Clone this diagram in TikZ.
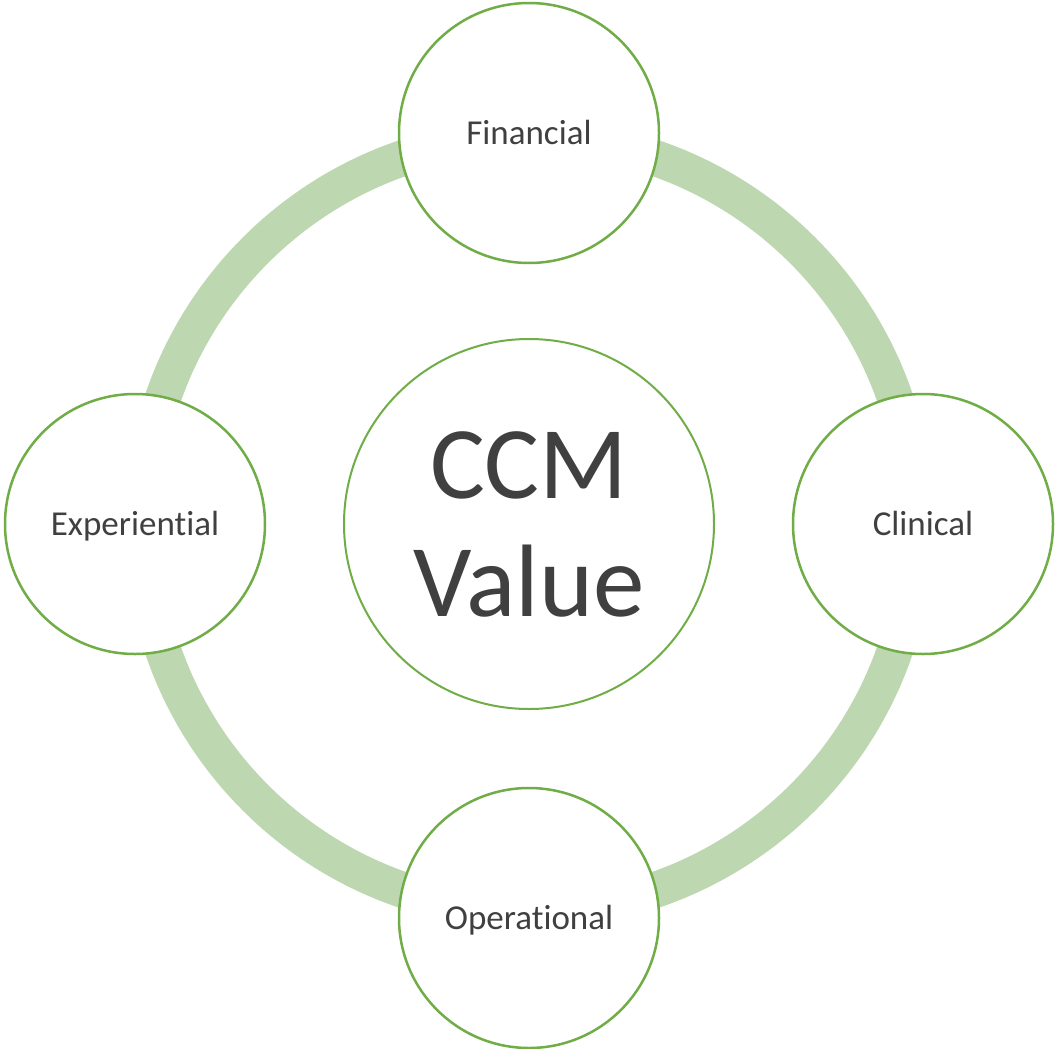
\documentclass[tikz,border=0pt]{standalone}
\usepackage{fontspec}
\setmainfont{Carlito}[Ligatures=NoCommon]
\usetikzlibrary{positioning}

\definecolor{ringgreen}{RGB}{189,215,177}
\definecolor{edgegreen}{RGB}{112,173,71}
\definecolor{textgray}{RGB}{64,64,64}

\tikzset{
	disc/.style={circle, draw=edgegreen, fill=white, inner sep=0pt, text=textgray},
	petal/.style={disc, line width=2.5pt, minimum size=260pt,
		font=\fontsize{35}{42}\selectfont, text height=22.5pt, text depth=0pt},
	hub/.style={disc, line width=2pt, minimum size=370pt, align=center,
		font=\fontsize{103}{118}\selectfont}
}

\begin{document}
\begin{tikzpicture}[x=1pt,y=-1pt]
	\useasboundingbox (0,0) rectangle (1055,1049);

	\coordinate (c) at (529,524);
	% the band behind the four outer circles
	\draw[ringgreen, line width=36pt] (c) circle (387pt);

	\node[hub] (value) at (c) {CCM\\Value};

	\node[petal] (fin) at (529,133) {Financial};
	\node[petal] (cli) at (923,524) {Clinical};
	\node[petal] (ope) at (529,918) {Operational};
	\node[petal] (exp) at (135,524) {Experiential};
\end{tikzpicture}
\end{document}
